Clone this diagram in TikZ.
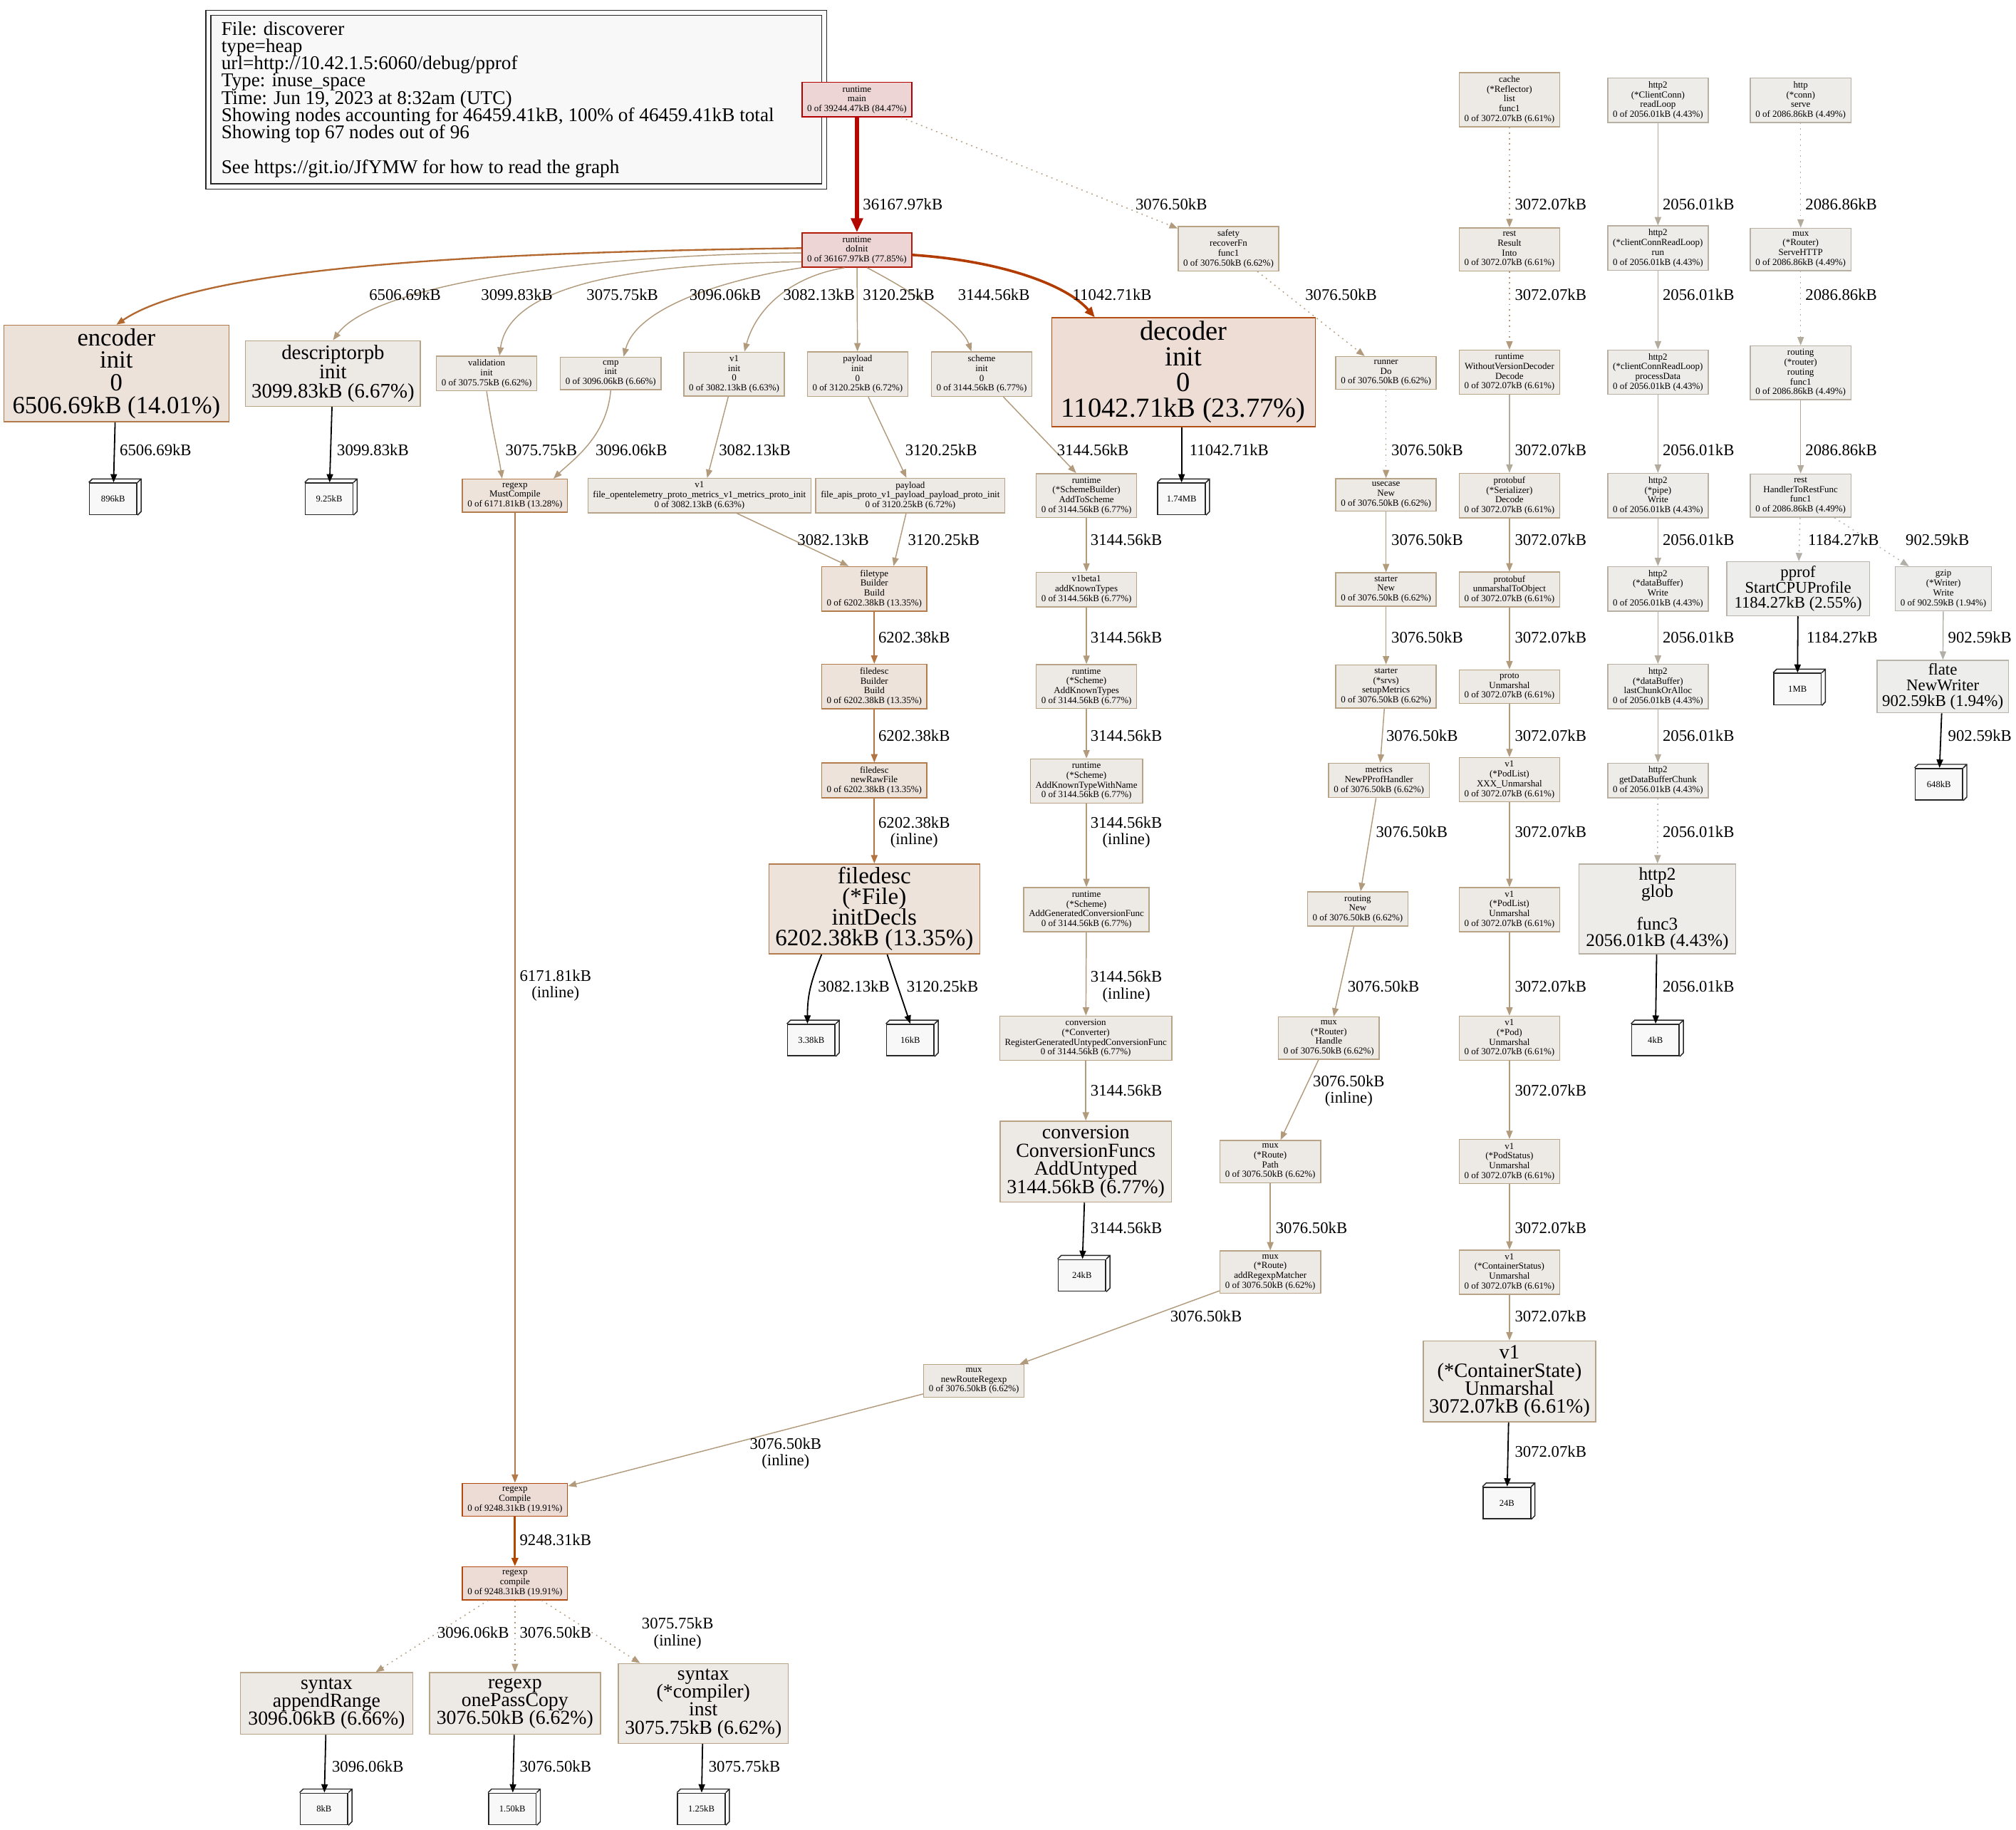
\documentclass[tikz,border=0pt]{standalone}
\usepackage{fontspec}
\setmainfont{Liberation Serif}
\usetikzlibrary{arrows.meta,calc}
\definecolor{cTanF}{HTML}{EDEAE6}
\definecolor{cTanB}{HTML}{B8A386}
\definecolor{cGryF}{HTML}{EDECE9}
\definecolor{cGryB}{HTML}{B8B1A3}
\definecolor{cGr2F}{HTML}{EDEDEB}
\definecolor{cGr2B}{HTML}{B8B4AC}
\definecolor{cRedF}{HTML}{EDD5D5}
\definecolor{cRedB}{HTML}{B20000}
\definecolor{cRed2B}{HTML}{B21A0A}
\definecolor{cDecF}{HTML}{EDDDD5}
\definecolor{cDecB}{HTML}{B24F15}
\definecolor{cEncF}{HTML}{EDE2DA}
\definecolor{cEncB}{HTML}{B27A4A}
\definecolor{cFdF}{HTML}{EDE3DB}
\definecolor{cFdB}{HTML}{B27C4C}
\definecolor{cCmpF}{HTML}{EDDCD5}
\definecolor{cCmpB}{HTML}{B24A0F}
\definecolor{cLeaf}{HTML}{F8F8F8}
\definecolor{cEtan}{HTML}{B29B7C}
\definecolor{cEgry}{HTML}{B2AA9A}
\definecolor{cEgr2}{HTML}{B2AFA8}
\definecolor{cEenc}{HTML}{B2682F}
\definecolor{cEdec}{HTML}{B23C00}
\definecolor{cEmain}{HTML}{B20800}
\definecolor{cEfd}{HTML}{B27443}
\definecolor{cEmc}{HTML}{B2794A}
\definecolor{cEcmp}{HTML}{B24700}
\newcommand\fsz[2]{\fontsize{#1}{#2}\selectfont\lineskiplimit=-30pt\lineskip=0pt}
\newcommand\smf{\fsz{7.2}{7.6}}
\newcommand\cubeify[1]{\draw[leafline] (#1.north west) -- ++(2.8,-2.8) -- ([shift={(2.8,-2.8)}]#1.north east) -- ([shift={(2.8,-2.8)}]#1.south east) -- (#1.south east) (#1.north east) -- ++(2.8,-2.8);}
\tikzset{
  basebox/.style={rectangle, align=center, line width=0.8pt, inner xsep=4pt, inner ysep=2.6pt, font=\smf},
  tan/.style={basebox, draw=cTanB, fill=cTanF},
  gry/.style={basebox, draw=cGryB, fill=cGryF},
  grtwo/.style={basebox, draw=cGr2B, fill=cGr2F},
  redone/.style={basebox, draw=cRedB, fill=cRedF},
  redtwo/.style={basebox, draw=cRed2B, fill=cRedF},
  decc/.style={basebox, draw=cDecB, fill=cDecF},
  encc/.style={basebox, draw=cEncB, fill=cEncF},
  fdc/.style={basebox, draw=cFdB, fill=cFdF},
  cmpc/.style={basebox, draw=cCmpB, fill=cCmpF},
  leafbox/.style={rectangle, draw=black!85, fill=cLeaf, line width=0.9pt, font=\fsz{7}{8}, minimum width=37, minimum height=24.5, inner sep=1pt},
  leafline/.style={draw=black!85, line width=0.8pt},
  lab/.style={anchor=west, align=center, inner sep=0pt, font=\fsz{12.6}{13}},
  tip/.style={-{Triangle[length=6.5pt,width=5pt]}},
  etan/.style={tip, draw=cEtan, line width=0.8pt},
  egry/.style={tip, draw=cEgry, line width=0.8pt},
  egrtwo/.style={tip, draw=cEgr2, line width=0.8pt},
  dots/.style={dash pattern=on 1pt off 3.2pt},
  eblk/.style={tip, draw=black, line width=1pt},
}
\begin{document}
\begin{tikzpicture}[x=1pt,y=-1pt]
\useasboundingbox (0,0) rectangle (1568,1423);
\fill[white] (0,0) rectangle (1568,1423);
% legend
\draw[line width=0.8pt, draw=black!85] (160,8) rectangle (643,147);
\node[draw=black!85, fill=cLeaf, line width=0.8pt, minimum width=475, minimum height=131, inner sep=0pt] (legend) at (401.5,77.5) {};
\node[anchor=north west, align=left, inner sep=0pt, font=\fsz{15.1}{13.45}] (legtext) at (172,16.5) {File: discoverer\\type=heap\\url=http://10.42.1.5:6060/debug/pprof\\Type: inuse\_space\\Time: Jun 19, 2023 at 8:32am (UTC)\\Showing nodes accounting for 46459.41kB, 100\% of 46459.41kB total\\Showing top 67 nodes out of 96\\[13.45pt]See https://git.io/JfYMW for how to read the graph};

% row 1
\node[redone] (main) at (666.5,77.5) {runtime\\main\\0 of 39244.47kB (84.47\%)};
\node[tan] (cache) at (1174,77.5) {cache\\(*Reflector)\\list\\func1\\0 of 3072.07kB (6.61\%)};
\node[gry] (h2read) at (1289.5,78) {http2\\(*ClientConn)\\readLoop\\0 of 2056.01kB (4.43\%)};
\node[gry] (httpserve) at (1400.5,78) {http\\(*conn)\\serve\\0 of 2086.86kB (4.49\%)};
% row 2
\node[redtwo] (doinit) at (666.5,194.5) {runtime\\doInit\\0 of 36167.97kB (77.85\%)};
\node[tan] (safety) at (955.5,193.5) {safety\\recoverFn\\func1\\0 of 3076.50kB (6.62\%)};
\node[tan] (rest) at (1174,194) {rest\\Result\\Into\\0 of 3072.07kB (6.61\%)};
\node[gry] (h2run) at (1289.5,193) {http2\\(*clientConnReadLoop)\\run\\0 of 2056.01kB (4.43\%)};
\node[gry] (muxserve) at (1400.5,194) {mux\\(*Router)\\ServeHTTP\\0 of 2086.86kB (4.49\%)};
% row 3
\node[encc, font=\fsz{19.2}{17.5}, minimum width=175, minimum height=75] (encoder) at (90.5,290.5) {encoder\\init\\0\\6506.69kB (14.01\%)};
\node[tan, font=\fsz{16}{15}, minimum width=136, minimum height=51] (descpb) at (259,290.5) {descriptorpb\\init\\3099.83kB (6.67\%)};
\node[tan] (validation) at (378.5,290.5) {validation\\init\\0 of 3075.75kB (6.62\%)};
\node[tan] (cmp) at (475,290.5) {cmp\\init\\0 of 3096.06kB (6.66\%)};
\node[tan] (v1init) at (571,291) {v1\\init\\0\\0 of 3082.13kB (6.63\%)};
\node[tan] (payinit) at (667,291) {payload\\init\\0\\0 of 3120.25kB (6.72\%)};
\node[tan] (schinit) at (763.5,291) {scheme\\init\\0\\0 of 3144.56kB (6.77\%)};
\node[decc, font=\fsz{21.4}{20}, minimum width=205, minimum height=83] (decoder) at (920.5,289.5) {decoder\\init\\0\\11042.71kB (23.77\%)};
\node[tan] (runner) at (1078,290) {runner\\Do\\0 of 3076.50kB (6.62\%)};
\node[tan] (wvd) at (1174,289.5) {runtime\\WithoutVersionDecoder\\Decode\\0 of 3072.07kB (6.61\%)};
\node[gry] (h2proc) at (1289.5,289.5) {http2\\(*clientConnReadLoop)\\processData\\0 of 2056.01kB (4.43\%)};
\node[gry] (routfunc) at (1400.5,290) {routing\\(*router)\\routing\\func1\\0 of 2086.86kB (4.49\%)};
% row 4
\node[leafbox] (l896) at (88,388) {896kB};
\node[leafbox] (l925) at (256,388) {9.25kB};
\node[fdc] (mustc) at (400.5,385.5) {regexp\\MustCompile\\0 of 6171.81kB (13.28\%)};
\node[tan] (v1file) at (544,385.5) {v1\\file\_opentelemetry\_proto\_metrics\_v1\_metrics\_proto\_init\\0 of 3082.13kB (6.63\%)};
\node[tan] (payfile) at (708,385.5) {payload\\file\_apis\_proto\_v1\_payload\_payload\_proto\_init\\0 of 3120.25kB (6.72\%)};
\node[tan] (addtosch) at (845,385.5) {runtime\\(*SchemeBuilder)\\AddToScheme\\0 of 3144.56kB (6.77\%)};
\node[leafbox] (l174) at (919,388) {1.74MB};
\node[tan] (usecase) at (1078,385) {usecase\\New\\0 of 3076.50kB (6.62\%)};
\node[tan] (pbdec) at (1174,385.5) {protobuf\\(*Serializer)\\Decode\\0 of 3072.07kB (6.61\%)};
\node[gry] (h2pipe) at (1289.5,385.5) {http2\\(*pipe)\\Write\\0 of 2056.01kB (4.43\%)};
\node[gry] (resthand) at (1400.5,385.5) {rest\\HandlerToRestFunc\\func1\\0 of 2086.86kB (4.49\%)};
% row 5
\node[grtwo, font=\fsz{12.6}{12}, minimum width=111, minimum height=42] (pprof) at (1398.5,458) {pprof\\StartCPUProfile\\1184.27kB (2.55\%)};
\node[grtwo] (gzip) at (1511.5,458) {gzip\\(*Writer)\\Write\\0 of 902.59kB (1.94\%)};
\node[fdc] (ftbuild) at (680,458) {filetype\\Builder\\Build\\0 of 6202.38kB (13.35\%)};
\node[tan] (v1b1) at (845,458.5) {v1beta1\\addKnownTypes\\0 of 3144.56kB (6.77\%)};
\node[tan] (startnew) at (1078,458.5) {starter\\New\\0 of 3076.50kB (6.62\%)};
\node[tan] (pbunm) at (1174,458.5) {protobuf\\unmarshalToObject\\0 of 3072.07kB (6.61\%)};
\node[gry] (h2dbw) at (1289.5,458) {http2\\(*dataBuffer)\\Write\\0 of 2056.01kB (4.43\%)};
% row 6
\node[leafbox] (l1mb) at (1398,536) {1MB};
\node[grtwo, font=\fsz{12.7}{12}, minimum width=102, minimum height=36] (flate) at (1511,534) {flate\\NewWriter\\902.59kB (1.94\%)};
\node[fdc] (fdbuild) at (680,534) {filedesc\\Builder\\Build\\0 of 6202.38kB (13.35\%)};
\node[tan] (addkt) at (845,534) {runtime\\(*Scheme)\\AddKnownTypes\\0 of 3144.56kB (6.77\%)};
\node[tan] (setupm) at (1078,534) {starter\\(*srvs)\\setupMetrics\\0 of 3076.50kB (6.62\%)};
\node[tan] (protounm) at (1174,534) {proto\\Unmarshal\\0 of 3072.07kB (6.61\%)};
\node[gry] (h2last) at (1289.5,534) {http2\\(*dataBuffer)\\lastChunkOrAlloc\\0 of 2056.01kB (4.43\%)};
% row 7
\node[leafbox] (l648) at (1508,610) {648kB};
\node[fdc] (rawfile) at (680,607) {filedesc\\newRawFile\\0 of 6202.38kB (13.35\%)};
\node[tan] (addktwn) at (845,607.5) {runtime\\(*Scheme)\\AddKnownTypeWithName\\0 of 3144.56kB (6.77\%)};
\node[tan] (metrics) at (1072.5,607) {metrics\\NewPProfHandler\\0 of 3076.50kB (6.62\%)};
\node[tan] (xxx) at (1174,606.5) {v1\\(*PodList)\\XXX\_Unmarshal\\0 of 3072.07kB (6.61\%)};
\node[gry] (h2get) at (1289.5,607) {http2\\getDataBufferChunk\\0 of 2056.01kB (4.43\%)};
% row 8
\node[fdc, font=\fsz{18.3}{16}, minimum width=164, minimum height=70] (initdecls) at (680,707) {filedesc\\(*File)\\initDecls\\6202.38kB (13.35\%)};
\node[tan] (addgen) at (845,707.5) {runtime\\(*Scheme)\\AddGeneratedConversionFunc\\0 of 3144.56kB (6.77\%)};
\node[tan] (routnew) at (1056,707) {routing\\New\\0 of 3076.50kB (6.62\%)};
\node[tan] (podlist) at (1174,707.5) {v1\\(*PodList)\\Unmarshal\\0 of 3072.07kB (6.61\%)};
\node[gry, font=\fsz{14}{12.8}, minimum width=122, minimum height=70] (glob) at (1289,707) {http2\\glob\\\mbox{}\\func3\\2056.01kB (4.43\%)};
% row 9
\node[leafbox] (l338) at (631,809) {3.38kB};
\node[leafbox] (l16) at (708,809) {16kB};
\node[tan] (conv) at (844.5,807.5) {conversion\\(*Converter)\\RegisterGeneratedUntypedConversionFunc\\0 of 3144.56kB (6.77\%)};
\node[tan] (muxhandle) at (1033.5,807.5) {mux\\(*Router)\\Handle\\0 of 3076.50kB (6.62\%)};
\node[tan] (pod) at (1174,807.5) {v1\\(*Pod)\\Unmarshal\\0 of 3072.07kB (6.61\%)};
\node[leafbox] (l4kb) at (1287.5,809) {4kB};
% row 10
\node[tan, font=\fsz{15.5}{14.3}, minimum width=133, minimum height=63] (addunt) at (844.5,903.5) {conversion\\ConversionFuncs\\AddUntyped\\3144.56kB (6.77\%)};
\node[tan] (muxpath) at (988,903.5) {mux\\(*Route)\\Path\\0 of 3076.50kB (6.62\%)};
\node[tan] (podstat) at (1174,903.5) {v1\\(*PodStatus)\\Unmarshal\\0 of 3072.07kB (6.61\%)};
% row 11
\node[leafbox] (l24kb) at (841.5,992) {24kB};
\node[tan] (addre) at (988,989.5) {mux\\(*Route)\\addRegexpMatcher\\0 of 3076.50kB (6.62\%)};
\node[tan] (contstat) at (1174,989.5) {v1\\(*ContainerStatus)\\Unmarshal\\0 of 3072.07kB (6.61\%)};
% row 12
\node[tan] (newrr) at (757.5,1074) {mux\\newRouteRegexp\\0 of 3076.50kB (6.62\%)};
\node[tan, font=\fsz{15.8}{14}, minimum width=134, minimum height=63] (contstate) at (1174,1074.5) {v1\\(*ContainerState)\\Unmarshal\\3072.07kB (6.61\%)};
% row 13-14
\node[cmpc] (Compile) at (400.5,1166.5) {regexp\\Compile\\0 of 9248.31kB (19.91\%)};
\node[leafbox] (l24b) at (1172,1169) {24B};
\node[cmpc] (compile) at (400.5,1231.5) {regexp\\compile\\0 of 9248.31kB (19.91\%)};
% row 15
\node[tan, font=\fsz{15.4}{14}, minimum width=134, minimum height=48] (appendr) at (254,1325) {syntax\\appendRange\\3096.06kB (6.66\%)};
\node[tan, font=\fsz{15.4}{14}, minimum width=133, minimum height=48] (onepass) at (400.5,1325) {regexp\\onePassCopy\\3076.50kB (6.62\%)};
\node[tan, font=\fsz{15.4}{14}, minimum width=132, minimum height=62] (inst) at (547,1325) {syntax\\(*compiler)\\inst\\3075.75kB (6.62\%)};
% row 16
\node[leafbox] (l8kb) at (252,1407) {8kB};
\node[leafbox] (l150) at (398.5,1407) {1.50kB};
\node[leafbox] (l125) at (545.5,1407) {1.25kB};

\foreach \n in {l896,l925,l174,l1mb,l648,l338,l16,l4kb,l24kb,l24b,l8kb,l150,l125}{\cubeify{\n}}

% ---- edges ----
\draw[draw=cEmain, line width=3pt, -{Triangle[length=11pt,width=9pt]}] (main) -- (doinit);
\draw[etan, dots] (main) -- (safety);
\draw[etan, dots] (cache) -- (rest);
\draw[egry] (h2read) -- (h2run);
\draw[egry, dots] (httpserve) -- (muxserve);

\draw[tip, draw=cEenc, line width=1.3pt] (doinit.178) .. controls (400,196) and (160,205) .. (encoder.north);
\draw[etan] (doinit.183) .. controls (450,198) and (290,222) .. (descpb.north);
\draw[etan] (doinit.192) .. controls (470,205) and (395,228) .. ([xshift=10pt]validation.north);
\draw[etan] (doinit.south west) .. controls (560,218) and (495,240) .. ([xshift=10pt]cmp.north);
\draw[etan] (doinit.235) .. controls (615,215) and (588,240) .. ([xshift=8pt]v1init.north);
\draw[etan] (doinit) -- (payinit);
\draw[etan] (doinit.300) .. controls (712,228) and (748,252) .. ([xshift=-8pt]schinit.north);
\draw[draw=cEdec, line width=2pt, -{Triangle[length=8pt,width=6.5pt]}] (doinit.355) .. controls (780,203) and (830,222) .. ([xshift=-69pt]decoder.north);
\draw[etan, dots] (safety) -- (runner);
\draw[etan, dots] (rest) -- (wvd);
\draw[egry] (h2run) -- (h2proc);
\draw[egry, dots] (muxserve) -- (routfunc);

\draw[eblk] (encoder) -- (l896);
\draw[eblk] (descpb) -- (l925);
\draw[etan] (validation.south) .. controls (383,335) and (388,355) .. ([xshift=-10pt]mustc.north);
\draw[etan] (cmp.south) .. controls (472,340) and (445,358) .. ([xshift=30pt]mustc.north);
\draw[etan] (v1init) -- ([xshift=6pt]v1file.north);
\draw[etan] (payinit) -- ([xshift=-3pt]payfile.north);
\draw[etan] (schinit) -- ([xshift=-8pt]addtosch.north);
\draw[eblk] (decoder.south -| l174) -- (l174);
\draw[etan, dots] (runner) -- (usecase);
\draw[egry] (wvd) -- (pbdec);
\draw[egry] (h2proc) -- (h2pipe);
\draw[egry] (routfunc) -- (resthand);

\draw[etan] (v1file) -- ([xshift=-20pt]ftbuild.north);
\draw[etan] (payfile) -- ([xshift=15pt]ftbuild.north);
\draw[etan] (addtosch) -- (v1b1);
\draw[etan] (usecase) -- (startnew);
\draw[etan] (pbdec) -- (pbunm);
\draw[egry] (h2pipe) -- (h2dbw);
\draw[egrtwo, dots] (resthand) -- (pprof);
\draw[egrtwo, dots] (resthand) -- (gzip);

\draw[tip, draw=cEfd, line width=1.1pt] (ftbuild) -- (fdbuild);
\draw[etan] (v1b1) -- (addkt);
\draw[etan] (startnew) -- (setupm);
\draw[etan] (pbunm) -- (protounm);
\draw[egry] (h2dbw) -- (h2last);
\draw[eblk] (pprof) -- (l1mb);
\draw[egrtwo] (gzip) -- (flate);

\draw[tip, draw=cEfd, line width=1.1pt] (fdbuild) -- (rawfile);
\draw[etan] (addkt) -- (addktwn);
\draw[etan] (setupm) -- (metrics);
\draw[etan] (protounm) -- (xxx);
\draw[egry] (h2last) -- (h2get);
\draw[eblk] (flate) -- (l648);

\draw[tip, draw=cEfd, line width=1.1pt] (rawfile) -- (initdecls);
\draw[etan] (addktwn) -- (addgen);
\draw[etan] (metrics) -- (routnew);
\draw[etan] (xxx) -- (podlist);
\draw[egry, dots] (h2get) -- (glob);

\draw[tip, draw=cEmc, line width=1.1pt] (mustc) -- (Compile);
\draw[eblk] ([xshift=-41pt]initdecls.south) .. controls (630,765) and (628,775) .. ([xshift=-3pt]l338.north);
\draw[eblk] ([xshift=10pt]initdecls.south) -- (l16.north);
\draw[etan] (addgen) -- (conv);
\draw[etan] (routnew) -- (muxhandle);
\draw[etan] (podlist) -- (pod);
\draw[eblk] (glob) -- (l4kb);

\draw[etan] (conv) -- (addunt);
\draw[etan] (muxhandle) -- (muxpath);
\draw[etan] (pod) -- (podstat);

\draw[eblk] (addunt) -- (l24kb);
\draw[etan] (muxpath) -- (addre);
\draw[etan] (podstat) -- (contstat);

\draw[etan] (addre) -- (newrr);
\draw[etan] (contstat) -- (contstate);
\draw[eblk] (contstate) -- (l24b);
\draw[etan] (newrr) -- (Compile);

\draw[tip, draw=cEcmp, line width=1.6pt] (Compile) -- (compile);
\draw[etan, dots] (compile) -- (appendr);
\draw[etan, dots] (compile) -- (onepass);
\draw[etan, dots] (compile) -- (inst);
\draw[eblk] (appendr) -- (l8kb);
\draw[eblk] (onepass) -- (l150);
\draw[eblk] (inst) -- (l125);

% ---- edge labels ----
\node[lab] (t1) at (671,159) {36167.97kB};
\node[lab] (t2) at (883,159) {3076.50kB};
\node[lab] (t3) at (1178,159) {3072.07kB};
\node[lab] (t4) at (1293,159) {2056.01kB};
\node[lab] (t5) at (1404,159) {2086.86kB};
\node[lab] (t6) at (287,229) {6506.69kB};
\node[lab] (t7) at (374,229) {3099.83kB};
\node[lab] (t8) at (456,229) {3075.75kB};
\node[lab] (t9) at (536,229) {3096.06kB};
\node[lab] (t10) at (609,229) {3082.13kB};
\node[lab] (t11) at (671,229) {3120.25kB};
\node[lab] (t12) at (745,229) {3144.56kB};
\node[lab] (t13) at (834,229) {11042.71kB};
\node[lab] (t14) at (1015,229) {3076.50kB};
\node[lab] (t15) at (1178,229) {3072.07kB};
\node[lab] (t16) at (1293,229) {2056.01kB};
\node[lab] (t17) at (1404,229) {2086.86kB};
\node[lab] (t18) at (93,350) {6506.69kB};
\node[lab] (t19) at (262,350) {3099.83kB};
\node[lab] (t20) at (393,350) {3075.75kB};
\node[lab] (t21) at (463,350) {3096.06kB};
\node[lab] (t22) at (559,350) {3082.13kB};
\node[lab] (t23) at (704,350) {3120.25kB};
\node[lab] (t24) at (822,350) {3144.56kB};
\node[lab] (t25) at (925,350) {11042.71kB};
\node[lab] (t26) at (1082,350) {3076.50kB};
\node[lab] (t27) at (1178,350) {3072.07kB};
\node[lab] (t28) at (1293,350) {2056.01kB};
\node[lab] (t29) at (1404,350) {2086.86kB};
\node[lab] (t30) at (620,420) {3082.13kB};
\node[lab] (t31) at (706,420) {3120.25kB};
\node[lab] (t32) at (848,420) {3144.56kB};
\node[lab] (t33) at (1082,420) {3076.50kB};
\node[lab] (t34) at (1178,420) {3072.07kB};
\node[lab] (t35) at (1293,420) {2056.01kB};
\node[lab] (t36) at (1406,420) {1184.27kB};
\node[lab] (t37) at (1482,420) {902.59kB};
\node[lab] (t38) at (683,496) {6202.38kB};
\node[lab] (t39) at (848,496) {3144.56kB};
\node[lab] (t40) at (1082,496) {3076.50kB};
\node[lab] (t41) at (1178,496) {3072.07kB};
\node[lab] (t42) at (1293,496) {2056.01kB};
\node[lab] (t43) at (1405,496) {1184.27kB};
\node[lab] (t44) at (1515,496) {902.59kB};
\node[lab] (t45) at (683,572) {6202.38kB};
\node[lab] (t46) at (848,572) {3144.56kB};
\node[lab] (t47) at (1078,572) {3076.50kB};
\node[lab] (t48) at (1178,572) {3072.07kB};
\node[lab] (t49) at (1293,572) {2056.01kB};
\node[lab] (t50) at (1515,572) {902.59kB};
\node[lab] (t51) at (683,647.5) {6202.38kB\\(inline)};
\node[lab] (t52) at (848,647.5) {3144.56kB\\(inline)};
\node[lab] (t53) at (1070,647) {3076.50kB};
\node[lab] (t54) at (1178,647) {3072.07kB};
\node[lab] (t55) at (1293,647) {2056.01kB};
\node[lab] (t56) at (404,766.5) {6171.81kB\\(inline)};
\node[lab] (t57) at (636,767) {3082.13kB};
\node[lab] (t58) at (705,767) {3120.25kB};
\node[lab] (t59) at (848,767.5) {3144.56kB\\(inline)};
\node[lab] (t60) at (1048,767) {3076.50kB};
\node[lab] (t61) at (1178,767) {3072.07kB};
\node[lab] (t62) at (1293,767) {2056.01kB};
\node[lab] (t63) at (848,848) {3144.56kB};
\node[lab] (t64) at (1021,848.5) {3076.50kB\\(inline)};
\node[lab] (t65) at (1178,848) {3072.07kB};
\node[lab] (t66) at (848,955) {3144.56kB};
\node[lab] (t67) at (992,955) {3076.50kB};
\node[lab] (t68) at (1178,955) {3072.07kB};
\node[lab] (t69) at (910,1024) {3076.50kB};
\node[lab] (t70) at (1178,1024) {3072.07kB};
\node[lab] (t71) at (1178,1129) {3072.07kB};
\node[lab] (t72) at (583,1130.5) {3076.50kB\\(inline)};
\node[lab] (t73) at (404,1198) {9248.31kB};
\node[lab] (t74) at (340,1270) {3096.06kB};
\node[lab] (t75) at (404,1270) {3076.50kB};
\node[lab] (t76) at (499,1270.5) {3075.75kB\\(inline)};
\node[lab] (t77) at (258,1374) {3096.06kB};
\node[lab] (t78) at (404,1374) {3076.50kB};
\node[lab] (t79) at (551,1374) {3075.75kB};
\end{tikzpicture}
\end{document}
